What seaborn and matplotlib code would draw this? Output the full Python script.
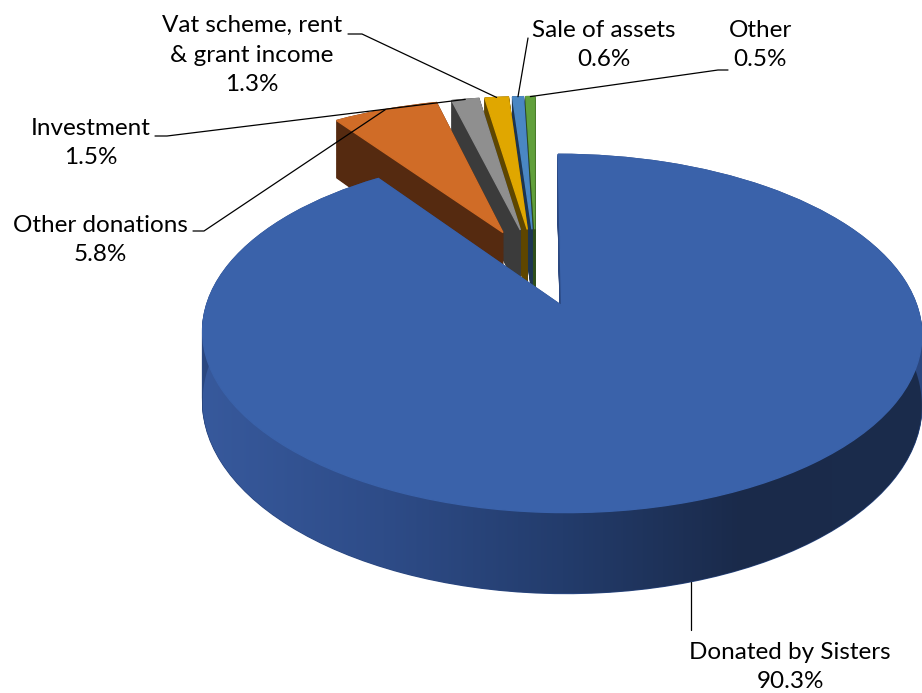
"""
    Income sources as an Excel style 3D pie with all slices exploded.
    Saves ``out.png``.
"""
import numpy as np
import seaborn as sns
import matplotlib.pyplot as plt
from matplotlib.patches import Polygon
from matplotlib.transforms import Transform
from matplotlib.colors import LinearSegmentedColormap

SOURCES = ["Donated by Sisters", "Other donations", "Investment",
           "Vat scheme, rent\n& grant income", "Sale of assets", "Other"]
SHARES = [90.3, 5.8, 1.5, 1.3, 0.6, 0.5]

# looks
EXPLODE = [0.24] * len(SHARES)
TOP = ["#3A62AA", "#D06C27", "#8F8F8F", "#E0A700", "#4A87C3", "#61A03B"]
SIDE = ["#2A4780", "#552A10", "#3B3B3B", "#5E4600", "#1D3550", "#2E4E1B"]
RIM = ["#37599C", "#2E4C88", "#233C6C", "#1A2A4A", "#1B2C4C"]

W, H = 922, 693
CX, CY = 536, 267          # pie centre (pixels)
A, B, K = 343, 163, 0.15   # half width, half height, perspective strength
DEPTH = 66                 # thickness of the pie (pixels, at the centre)

# label block centres and where their leader lines start (pixels)
LABEL_XY = [(790, 667), (100, 240), (91, 143), (252, 55), (604, 45), (760, 45)]
LEADER = [None, [(193, 231), (204, 231)], [(155, 136), (167, 136)],
          [(348, 34), (362, 34)], [(528, 38)], [(728, 70), (718, 70)]]


class Tilt(Transform):
    """ Map the flat unit pie onto the page as seen from above, with a bit of perspective.
        ``drop`` in [0, 1] lowers the plane by that fraction of the pie thickness.
    """
    input_dims = output_dims = 2

    def __init__(self, drop=0.0):
        super().__init__()
        self.drop = drop

    def transform_non_affine(self, values):
        uv = np.atleast_2d(np.asarray(values, dtype=float))
        w = 1 + K * uv[:, 1]
        return np.column_stack([CX + A * uv[:, 0] / w,
                                CY + (-B * uv[:, 1] + DEPTH * self.drop) / w])


def draw_pie(ax, colors, drop, zorder):
    wedges, _ = ax.pie(SHARES, explode=EXPLODE, colors=colors,
                       startangle=90, counterclock=False)
    for wdg in wedges:
        wdg.set_transform(Tilt(drop) + ax.transData)
        wdg.set_edgecolor(wdg.get_facecolor())
        wdg.set_linewidth(1.0)
        wdg.set_zorder(zorder)
    return wedges


sns.set_theme(style="white")
plt.rcParams["font.family"] = ["Lato", "DejaVu Sans"]

fig = plt.figure(figsize=(W / 100, H / 100), dpi=100)
ax = fig.add_axes([0, 0, 1, 1])

# side walls: stack of darker pies, bottom first
n_layers = 70
for k in range(n_layers + 1):
    draw_pie(ax, SIDE, 1 - k / n_layers, 1)

# shaded front wall of the big slice
big = ax.pie(SHARES, explode=EXPLODE, colors=TOP, startangle=90,
             counterclock=False)[0][0]
big.remove()
t = np.linspace(np.pi - 0.1, 2 * np.pi + 0.1, 240)
ring = np.array(big.center) + np.column_stack([np.cos(t), np.sin(t)])
rim = np.vstack([Tilt(0).transform(ring), Tilt(1).transform(ring)[::-1]])
im = ax.imshow(np.linspace(0, 1, 256)[None, :],
               cmap=LinearSegmentedColormap.from_list("rim", RIM),
               extent=(rim[:, 0].min(), rim[:, 0].max(), rim[:, 1].max(), rim[:, 1].min()),
               aspect="auto", interpolation="bilinear", zorder=2)
im.set_clip_path(Polygon(rim, closed=True, transform=ax.transData))

# top faces
tops = draw_pie(ax, TOP, 0.0, 3)

# labels + leader lines
for i, wdg in enumerate(tops):
    mid = np.deg2rad((wdg.theta1 + wdg.theta2) / 2)
    edge = np.array(wdg.center) + wdg.r * np.array([np.cos(mid), np.sin(mid)])
    if LEADER[i] is None:       # big slice: hang the label under the front wall
        ex, ey = Tilt(1).transform(edge[None, :])[0]
        pts = [(ex, 630), (ex, ey)]
    else:
        pts = LEADER[i] + [tuple(Tilt(0).transform(edge[None, :])[0])]
    xs, ys = zip(*pts)
    ax.plot(xs, ys, color="black", lw=0.9, zorder=4)
    lx, ly = LABEL_XY[i]
    ax.text(lx, ly, f"{SOURCES[i]}\n{SHARES[i]:.1f}%", ha="center", va="center",
            fontsize=17.5, linespacing=1.5, color="black", zorder=5)

ax.set_aspect("auto")
ax.set_xlim(0, W)
ax.set_ylim(H, 0)
ax.axis("off")

fig.savefig("out.png", dpi=100)
plt.close(fig)
